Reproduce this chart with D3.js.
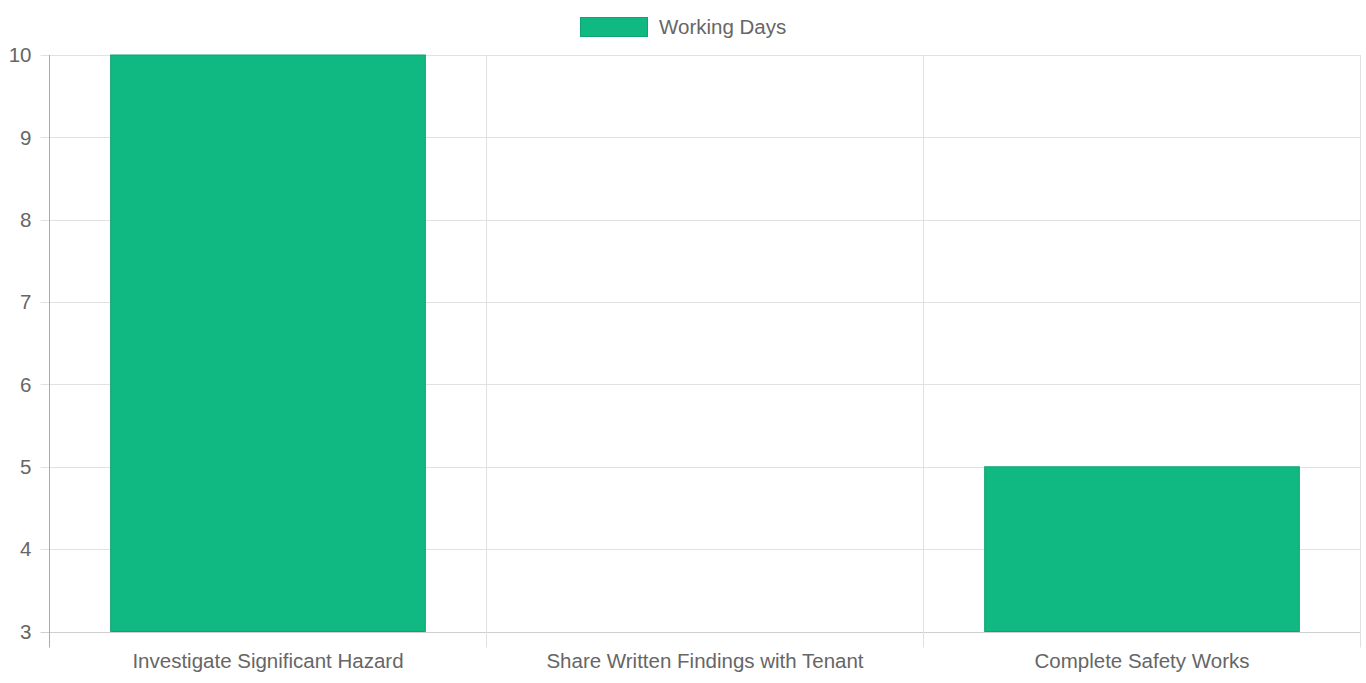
<!DOCTYPE html>
<html>
<head>
<meta charset="utf-8">
<script src="https://cdn.jsdelivr.net/npm/d3@7"></script>
<style>
  body { margin: 0; background: #fff; }
  svg { display: block; font-family: "Liberation Sans", Arial, sans-serif; }
</style>
</head>
<body>
<svg width="1366" height="683"></svg>
<script>
// data
var categories = ["Investigate Significant Hazard", "Share Written Findings with Tenant", "Complete Safety Works"];
var workingDays = [10, 3, 5];
var yTicks = [3, 4, 5, 6, 7, 8, 9, 10];
var seriesName = "Working Days";

var svg = d3.select("svg");
var width = +svg.attr("width");
var height = +svg.attr("height");

var margin = { top: 55, right: 5.5, bottom: 51.5, left: 49.5 };
var innerWidth = width - margin.left - margin.right;
var innerHeight = height - margin.top - margin.bottom;

var fill = "#10b981";
var stroke = "#0ea372";
var textColor = "#666";
var gridColor = "#e1e1e1";
var fontSize = "20.5px";

var xScale = d3.scaleBand()
  .domain(categories)
  .range([0, innerWidth]);

var yScale = d3.scaleLinear()
  .domain([3, 10])
  .range([innerHeight, 0]);

var g = svg.append("g")
  .attr("transform", `translate(${margin.left}, ${margin.top})`);

// horizontal grid
g.append("g")
  .selectAll("line")
  .data(yTicks)
  .enter()
  .append("line")
  .attr("x1", -9)
  .attr("x2", innerWidth)
  .attr("y1", d => Math.round(yScale(d)) + 0.5)
  .attr("y2", d => Math.round(yScale(d)) + 0.5)
  .attr("stroke", d => d === 3 ? "#cfcfcf" : gridColor)
  .attr("stroke-width", 1);

// vertical grid
var xEdges = categories.map(c => xScale(c)).concat([innerWidth]);
g.append("g")
  .selectAll("line")
  .data(xEdges)
  .enter()
  .append("line")
  .attr("x1", d => Math.round(d))
  .attr("x2", d => Math.round(d))
  .attr("y1", 0)
  .attr("y2", innerHeight + 16)
  .attr("stroke", (d, i) => i === 0 ? "#aaa" : gridColor)
  .attr("stroke-width", 1);

// y labels
g.append("g")
  .selectAll("text")
  .data(yTicks)
  .enter()
  .append("text")
  .attr("x", -18)
  .attr("y", d => yScale(d))
  .attr("dy", "0.35em")
  .attr("text-anchor", "end")
  .attr("fill", textColor)
  .style("font-size", fontSize)
  .text(d => d);

// x labels
g.append("g")
  .selectAll("text")
  .data(categories)
  .enter()
  .append("text")
  .attr("x", d => xScale(d) + xScale.bandwidth() / 2)
  .attr("y", innerHeight + 36)
  .attr("text-anchor", "middle")
  .attr("fill", textColor)
  .style("font-size", fontSize)
  .text(d => d);

// bars
var barW = xScale.bandwidth() * 0.72;
g.selectAll("rect.bar")
  .data(workingDays)
  .enter()
  .append("rect")
  .attr("class", "bar")
  .attr("x", (d, i) => xScale(categories[i]) + (xScale.bandwidth() - barW) / 2)
  .attr("y", d => yScale(d))
  .attr("width", barW)
  .attr("height", d => innerHeight - yScale(d))
  .attr("fill", fill)
  .attr("stroke", stroke)
  .attr("stroke-width", d => d > 3 ? 1 : 0);

// legend
var legend = svg.append("g");
legend.append("rect")
  .attr("x", 580.5)
  .attr("y", 17.5)
  .attr("width", 67)
  .attr("height", 19)
  .attr("fill", fill)
  .attr("stroke", stroke)
  .attr("stroke-width", 1);
legend.append("text")
  .attr("x", 659)
  .attr("y", 27)
  .attr("dy", "0.35em")
  .attr("fill", textColor)
  .style("font-size", fontSize)
  .text(seriesName);
</script>
</body>
</html>
